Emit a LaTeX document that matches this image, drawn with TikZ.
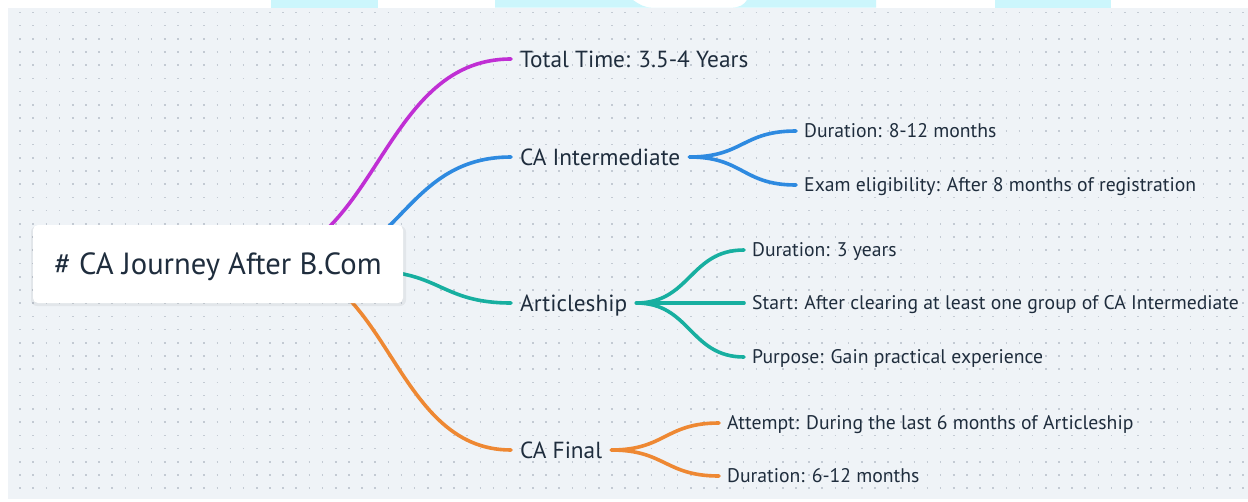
\documentclass[tikz,border=0pt]{standalone}
\usepackage{fontspec}
\setmainfont{PT Sans}

\pgfdeclarelayer{back}
\pgfdeclarelayer{links}
\pgfsetlayers{back,links,main}

\definecolor{paper}{HTML}{EFF3F7}
\definecolor{dotgray}{HTML}{C3CAD3}
\definecolor{ink}{HTML}{1F2D3D}
\definecolor{wmark}{HTML}{CCF6FC}
\definecolor{mmpurple}{HTML}{C02FD4}
\definecolor{mmblue}{HTML}{2E8AE0}
\definecolor{mmteal}{HTML}{17AFA0}
\definecolor{mmorange}{HTML}{EE8833}

\begin{document}
\begin{tikzpicture}[x=1pt,y=-1pt]
   \tikzstyle{every node}=[text=ink, text depth=0pt]
   \tikzstyle{rootbox}=[fill=white, rounded corners=5pt, minimum width=370pt, minimum height=78pt, text height=21.4pt, font=\fontsize{30.6}{32}\selectfont]
   \tikzstyle{topic}=[anchor=west, inner xsep=9pt, inner ysep=0pt, text height=16.3pt, font=\fontsize{23.3}{25}\selectfont]
   \tikzstyle{leaf}=[anchor=west, inner xsep=8pt, inner ysep=0pt, text height=13.8pt, font=\fontsize{19.7}{21}\selectfont]
   \tikzstyle{link}=[line width=3.6pt, line cap=round]
   \tikzstyle{dotrow}=[dotgray, line width=1.6pt, dash pattern=on 1.6pt off 11.55pt]

\useasboundingbox (0,0) rectangle (1248,501);

\begin{pgfonlayer}{back}
    \fill[white] (0,0) rectangle (1248,501);
    \fill[wmark] (271,0) rectangle (378,7.6);
    \fill[wmark] (495,0) -- (633,0) .. controls (640,5) and (645,7.6) .. (652,7.6)
        -- (732,7.6) .. controls (739,7.6) and (744,5) .. (747,0) -- (876,0) -- (876,7.6) -- (495,7.6) -- cycle;
    \fill[wmark] (995,0) rectangle (1111,7.6);
    \fill[paper] (8,7.6) rectangle (1248,499);
    \foreach \r in {0,...,36}
        \draw[dotrow] (19.3,12.3+13.22*\r) -- (1248,12.3+13.22*\r);
\end{pgfonlayer}

\coordinate (s1) at (245,264);
\coordinate (s2) at (290,272);
\coordinate (s3) at (370,271);
\coordinate (s4) at (270,262);

\fill[black, opacity=0.05, rounded corners=6pt] (31,226) rectangle (406,306);
\node[rootbox] (root) at (218,264) {\# CA Journey After B.Com};

\node[topic] (total) at (511,59) {Total Time: 3.5-4 Years};
\node[topic] (inter) at (511,157) {CA Intermediate};
\node[topic] (art) at (511,303) {Articleship};
\node[topic] (final) at (511,450) {CA Final};

\node[leaf] (idur) at (796,131) {Duration: 8-12 months};
\node[leaf] (iexam) at (796,185) {Exam eligibility: After 8 months of registration};
\node[leaf] (adur) at (744,250) {Duration: 3 years};
\node[leaf] (astart) at (744,303) {Start: After clearing at least one group of CA Intermediate};
\node[leaf] (apurp) at (744,357) {Purpose: Gain practical experience};
\node[leaf] (fatt) at (719,423) {Attempt: During the last 6 months of Articleship};
\node[leaf] (fdur) at (719,476) {Duration: 6-12 months};

\begin{pgfonlayer}{links}
    \draw[link, mmpurple] (s1) .. controls +(133,0) and +(-133,0) .. (total.west);
    \draw[link, mmblue] (s2) .. controls +(110,0) and +(-110,0) .. (inter.west);
    \draw[link, mmteal] (s3) .. controls +(70,0) and +(-70,0) .. (art.west);
    \draw[link, mmorange] (s4) .. controls +(120,0) and +(-120,0) .. (final.west);

    \draw[link, mmblue] (inter.east) .. controls +(54,0) and +(-54,0) .. (idur.west);
    \draw[link, mmblue] (inter.east) .. controls +(54,0) and +(-54,0) .. (iexam.west);
    \draw[link, mmteal] (art.east) .. controls +(54,0) and +(-54,0) .. (adur.west);
    \draw[link, mmteal] (art.east) -- (astart.west);
    \draw[link, mmteal] (art.east) .. controls +(54,0) and +(-54,0) .. (apurp.west);
    \draw[link, mmorange] (final.east) .. controls +(54,0) and +(-54,0) .. (fatt.west);
    \draw[link, mmorange] (final.east) .. controls +(54,0) and +(-54,0) .. (fdur.west);
\end{pgfonlayer}

\end{tikzpicture}
\end{document}
